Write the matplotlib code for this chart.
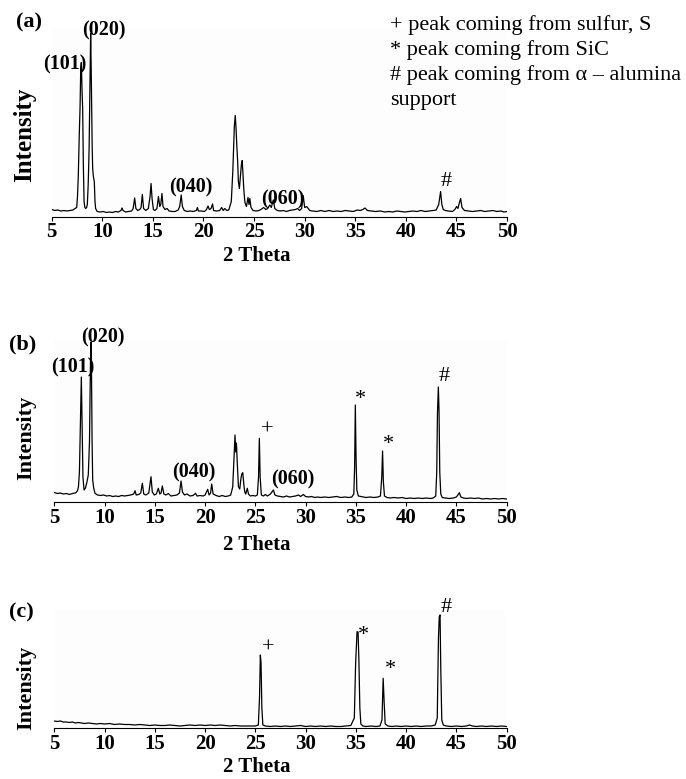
import matplotlib
matplotlib.use("Agg")
import matplotlib.pyplot as plt

# ====== DATA ======
# (a) fresh film: 2 theta (deg) and intensity (a.u.)
a_two_theta = [5.0, 5.3, 5.6, 5.9, 6.2, 6.5, 6.8, 7.1, 7.3, 7.47, 7.55, 7.63, 7.72, 7.8, 7.87, 7.93,
               8.0, 8.06, 8.13, 8.2, 8.28, 8.36, 8.45, 8.52, 8.6, 8.65, 8.7, 8.75, 8.81, 8.85, 8.9,
               8.95, 9.0, 9.05, 9.12, 9.21, 9.28, 9.34, 9.5, 9.8, 10.1, 10.4, 10.7, 11.0, 11.3, 11.6,
               11.85, 11.95, 12.05, 12.3, 12.6, 12.9, 13.05, 13.2, 13.32, 13.5, 13.7, 13.83, 13.96,
               14.08, 14.3, 14.55, 14.72, 14.82, 14.92, 15.05, 15.2, 15.4, 15.55, 15.68, 15.78, 15.9,
               16.0, 16.2, 16.4, 16.6, 16.9, 17.2, 17.5, 17.65, 17.8, 17.92, 18.1, 18.4, 18.7, 19.0,
               19.3, 19.4, 19.5, 19.8, 20.1, 20.3, 20.45, 20.58, 20.75, 20.9, 21.0, 21.3, 21.6, 21.8,
               21.95, 22.1, 22.3, 22.5, 22.75, 22.9, 23.05, 23.14, 23.22, 23.3, 23.38, 23.45, 23.55,
               23.65, 23.75, 23.83, 23.92, 24.0, 24.1, 24.25, 24.4, 24.5, 24.58, 24.7, 24.9, 25.2,
               25.5, 25.75, 25.95, 26.15, 26.35, 26.55, 26.7, 26.9, 27.05, 27.3, 27.6, 27.9, 28.2,
               28.5, 28.8, 29.1, 29.3, 29.5, 29.7, 29.86, 30.0, 30.2, 30.5, 30.8, 31.2, 31.6, 32.0,
               32.4, 32.8, 33.2, 33.6, 34.0, 34.4, 34.8, 35.2, 35.5, 35.75, 35.96, 36.2, 36.6, 37.0,
               37.5, 37.9, 38.3, 38.7, 39.1, 39.5, 39.9, 40.3, 40.7, 41.1, 41.5, 41.9, 42.3, 42.7,
               43.0, 43.25, 43.44, 43.56, 43.7, 43.9, 44.2, 44.6, 44.85, 45.02, 45.15, 45.3, 45.42,
               45.55, 45.8, 46.2, 46.6, 47.0, 47.4, 47.8, 48.2, 48.6, 49.0, 49.4, 49.7, 50.0]
a_intensity = [7, 6, 6.5, 5.5, 6, 5.5, 6, 6.5, 8, 9, 20, 41, 80, 108, 148, 154,
               125, 108, 50, 15, 9, 8, 9, 12, 30, 48, 70, 108, 160, 183, 150,
               108, 70, 48, 40, 35, 15, 8, 5, 4.5, 5, 4, 4.5, 4, 5, 4.5,
               6, 8.5, 6, 4.5, 5, 5.5, 8, 18.5, 8, 6, 7, 9, 22,
               8, 6, 8, 20, 33, 18, 7, 6, 8, 20, 10, 12, 23,
               10, 7, 8, 5.5, 5, 5, 6.5, 10, 21.5, 10, 6, 5, 5.5, 5,
               6, 9, 5.5, 5.5, 5, 7, 10.5, 7, 8, 12.5, 6, 5.5, 6, 9,
               6, 8, 6, 6.5, 15, 45, 90, 101, 88, 70, 55, 35, 28,
               40, 52, 56, 40, 25, 14, 10, 19, 12, 18, 9, 6, 5.5,
               6, 7.5, 9, 7, 8, 11.5, 9, 16.5, 8, 6, 5.5, 6, 5,
               6, 6.5, 7, 8, 6, 8, 21, 9, 10, 6, 5.5, 5, 6, 5,
               6, 5, 5.5, 5, 6, 5.5, 5, 6.5, 6, 7, 8.5, 6, 5.5, 5,
               5.5, 4.5, 5, 4.5, 5.5, 5, 4.5, 5, 5.5, 5, 6, 5, 5.5, 6,
               6.5, 12, 25, 12, 7, 6, 5.5, 5, 7, 10, 8, 14, 18,
               9, 6, 5.5, 5, 5.5, 6, 5, 5.5, 6, 5, 5.5, 4.5, 5]

# (b) after sulfur exposure
b_two_theta = [5.0, 5.3, 5.6, 5.9, 6.2, 6.5, 6.8, 7.1, 7.3, 7.4, 7.5, 7.6, 7.69, 7.76, 7.85, 7.96,
               8.1, 8.25, 8.38, 8.5, 8.6, 8.65, 8.7, 8.76, 8.82, 8.92, 9.05, 9.3, 9.6, 9.9, 10.2,
               10.5, 10.8, 11.1, 11.4, 11.7, 12.0, 12.3, 12.6, 12.9, 13.03, 13.15, 13.4, 13.6, 13.76,
               13.9, 14.1, 14.4, 14.62, 14.75, 14.95, 15.15, 15.35, 15.5, 15.62, 15.75, 15.9, 16.1,
               16.35, 16.6, 16.9, 17.2, 17.45, 17.61, 17.75, 17.95, 18.2, 18.5, 18.8, 19.05, 19.2,
               19.5, 19.8, 20.0, 20.26, 20.4, 20.55, 20.66, 20.8, 21.1, 21.4, 21.7, 22.0, 22.3,
               22.55, 22.75, 22.88, 22.98, 23.05, 23.12, 23.2, 23.32, 23.45, 23.55, 23.65, 23.75,
               23.85, 23.95, 24.05, 24.2, 24.32, 24.5, 24.75, 25.0, 25.2, 25.32, 25.4, 25.48, 25.6,
               25.8, 26.0, 26.2, 26.5, 26.65, 26.8, 26.95, 27.2, 27.5, 27.8, 28.1, 28.4, 28.7, 29.0,
               29.3, 29.5, 29.78, 30.0, 30.3, 30.6, 30.9, 31.2, 31.5, 31.9, 32.3, 32.7, 33.1, 33.5,
               33.9, 34.3, 34.6, 34.8, 34.88, 34.95, 35.02, 35.1, 35.25, 35.5, 35.75, 36.0, 36.4,
               36.8, 37.2, 37.45, 37.58, 37.66, 37.74, 37.85, 38.1, 38.4, 38.8, 39.2, 39.6, 40.0,
               40.4, 40.8, 41.2, 41.6, 42.0, 42.4, 42.7, 42.95, 43.05, 43.12, 43.21, 43.28, 43.35,
               43.45, 43.6, 43.9, 44.3, 44.7, 45.0, 45.15, 45.3, 45.45, 45.7, 46.0, 46.4, 46.8,
               47.2, 47.6, 48.0, 48.4, 48.8, 49.2, 49.6, 50.0]
b_intensity = [9.5, 8.5, 9, 8, 8.5, 7.5, 8.5, 9, 11, 15, 30, 80, 125, 80, 25, 12,
               14, 20, 27, 60, 140, 160, 130, 60, 22, 14, 8.7, 7, 6.5, 7, 6,
               6.5, 5.5, 6, 5.5, 6.5, 6, 6.5, 7, 8, 11.3, 7, 7.5, 9, 18.7,
               8, 7, 9, 25.3, 10, 7, 8, 13.7, 8, 9, 16, 8, 7,
               8.5, 6, 6.5, 7, 9, 21, 10, 7, 8, 6, 6.5, 8.7, 6,
               6.5, 6, 7, 12.7, 7, 9, 18, 8, 6.5, 5.5, 6.5, 5.5, 6,
               7, 15, 45, 67, 50, 59, 40, 15.3, 13, 22, 28, 29.3,
               18, 10, 8, 13.7, 8, 6, 6.5, 6, 7, 25, 63.7, 25, 7,
               6, 7.5, 6, 8, 10, 12, 7, 6, 5.5, 5, 6, 5, 5.5, 6,
               7, 5.5, 7.5, 5.5, 5, 5.5, 4.5, 5, 4.5, 5, 4.5, 5, 5.5, 4.5,
               5, 4.5, 5, 8, 35, 97, 45, 12, 6, 5.5, 5, 4.5, 5,
               4.5, 5, 6, 25, 51, 20, 6, 4.5, 4, 4.5, 4, 4.5, 3.5,
               4, 3.5, 4, 3.5, 4, 3.5, 4, 6, 30, 88, 115, 90, 30,
               8, 4.5, 4, 3.5, 4, 5, 7, 9.3, 5, 4, 3.5, 4, 3.5,
               4, 3, 3.5, 3, 3.5, 3, 3.5, 3]

# (c) sulfur on SiC / alumina support only
c_two_theta = [5.0, 5.3, 5.6, 5.9, 6.2, 6.5, 6.8, 7.1, 7.4, 7.7, 8.0, 8.4, 8.8, 9.2, 9.6, 10.0,
               10.5, 11.0, 11.5, 12.0, 12.5, 13.0, 13.5, 14.0, 14.5, 15.0, 15.5, 16.0, 16.5, 17.0,
               17.5, 18.0, 18.5, 19.0, 19.5, 20.0, 20.5, 21.0, 21.5, 22.0, 22.5, 23.0, 23.5, 24.0,
               24.5, 25.0, 25.3, 25.42, 25.5, 25.57, 25.65, 25.75, 26.0, 26.5, 27.0, 27.5, 28.0,
               28.5, 29.0, 29.5, 30.0, 30.5, 31.0, 31.5, 32.0, 32.5, 33.0, 33.5, 34.0, 34.5, 34.85,
               34.98, 35.12, 35.22, 35.3, 35.4, 35.5, 35.7, 36.0, 36.5, 37.0, 37.4, 37.6, 37.72,
               37.82, 37.92, 38.2, 38.6, 39.0, 39.5, 40.0, 40.5, 41.0, 41.5, 42.0, 42.5, 42.9, 43.1,
               43.22, 43.3, 43.38, 43.45, 43.55, 43.7, 44.0, 44.5, 45.0, 45.5, 46.0, 46.3, 46.6,
               47.0, 47.5, 48.0, 48.5, 49.0, 49.5, 50.0]
c_intensity = [7, 6.5, 7, 6, 6, 5.5, 6, 5, 5.5, 5, 4.5, 5, 4.5, 4, 4.5, 4,
               4.5, 3.5, 4, 3.5, 3.5, 3, 3.5, 3, 2.5, 3, 2.5, 2.5, 3, 2.5,
               2, 2.5, 3, 2.5, 3, 2.5, 3, 2.5, 3, 2.5, 2, 2.5, 2, 2,
               2, 2, 3, 31, 73, 65, 20, 3, 2, 1.5, 2, 1.5, 2,
               1.5, 2, 2.5, 1.5, 2, 1.5, 2, 1.5, 2, 1.5, 1.5, 2, 2.5, 10,
               64.7, 96.3, 96, 70, 20, 4, 2, 1.5, 2, 1.5, 2, 8, 49.7,
               25, 4, 2, 1.5, 2, 1.5, 2, 1.5, 2, 1.5, 2, 2, 3, 10,
               90, 111, 113, 60, 8, 3, 2, 1.5, 2, 1.5, 2, 3, 2,
               1.5, 2, 1.5, 2, 1.5, 2, 1.5]

x_ticks = [5, 10, 15, 20, 25, 30, 35, 40, 45, 50]

# peak labels: (text, 2theta, intensity)
a_labels = [("(101)", 6.31, 152.5), ("(020)", 10.17, 186.5), ("(040)", 18.76, 29.5),
            ("(060)", 27.86, 17.5)]
a_marks = [("#", 43.96, 35.5)]
b_labels = [("(101)", 6.86, 134.5), ("(020)", 9.8, 165), ("(040)", 18.85, 30),
            ("(060)", 28.75, 23)]
b_marks = [("+", 26.17, 72), ("*", 35.43, 102), ("*", 38.2, 57), ("#", 43.77, 125)]
c_labels = []
c_marks = [("+", 26.27, 80), ("*", 35.72, 93), ("*", 38.4, 58), ("#", 43.97, 120)]

legend_lines = ["+ peak coming from sulfur, S",
                "* peak coming from SiC",
                "# peak coming from \u03b1 \u2013 alumina",
                "support"]

# ====== FIGURE ======
W, H = 686, 779
SERIF = "Liberation Serif"
fig = plt.figure(figsize=(W / 100, H / 100), dpi=100)


def px_axes(left, bottom, width, height):
    return fig.add_axes([left / W, 1 - bottom / H, width / W, height / H])


panels = [
    # tag, x, y, labels, marks, (left, bottom px, width, height), ymax,
    # tag pos, intensity pos, intensity size, xlabel y
    ("(a)", a_two_theta, a_intensity, a_labels, a_marks, (51.7, 216.5, 455.3, 190), 190,
     (29, 22), (25, 135), 18, 256),
    ("(b)", b_two_theta, b_intensity, b_labels, b_marks, (54.3, 502, 452.3, 163), 163,
     (22.5, 344), (26, 438), 16, 545),
    ("(c)", c_two_theta, c_intensity, c_labels, c_marks, (54.3, 728, 452.3, 118), 118,
     (21, 612), (26, 688), 16, 767),
]

for tag, xs, ys, labels, marks, rect, ymax, tag_pos, int_pos, int_size, xl_y in panels:
    ax = px_axes(*rect)
    ax.set_facecolor("#fdfdfd")
    ax.plot(xs, ys, color="black", lw=0.9)
    ax.set_xlim(5, 50)
    ax.set_ylim(0, ymax)
    for s in ["top", "right", "left"]:
        ax.spines[s].set_visible(False)
    ax.spines["bottom"].set_linewidth(0.8)
    ax.set_yticks([])
    ax.set_xticks(x_ticks)
    ax.tick_params(axis="x", direction="out", length=3, width=0.8, pad=1)
    ax.set_xticklabels([str(t) for t in x_ticks], fontfamily=SERIF,
                       fontweight="bold", fontsize=15)

    for txt, x, y in labels:
        ax.text(x, y, txt, ha="center", va="center", fontfamily=SERIF,
                fontweight="bold", fontsize=14.5)
    for txt, x, y in marks:
        ax.text(x, y, txt, ha="center", va="center", fontfamily=SERIF, fontsize=16)

    fig.text(tag_pos[0] / W, 1 - tag_pos[1] / H, tag, ha="center", va="center",
             fontfamily=SERIF, fontweight="bold", fontsize=16)
    fig.text(int_pos[0] / W, 1 - int_pos[1] / H, "Intensity", rotation=90,
             ha="center", va="center", fontfamily=SERIF, fontweight="bold",
             fontsize=int_size)
    fig.text(257 / W, 1 - xl_y / H, "2 Theta", ha="center", va="center",
             fontfamily=SERIF, fontweight="bold", fontsize=15)

# legend text block, top right
for i, line in enumerate(legend_lines):
    fig.text(390 / W, 1 - (25 + 25 * i) / H, line, ha="left", va="center",
             fontfamily=SERIF, fontsize=16)

fig.savefig("out.png", dpi=100)
